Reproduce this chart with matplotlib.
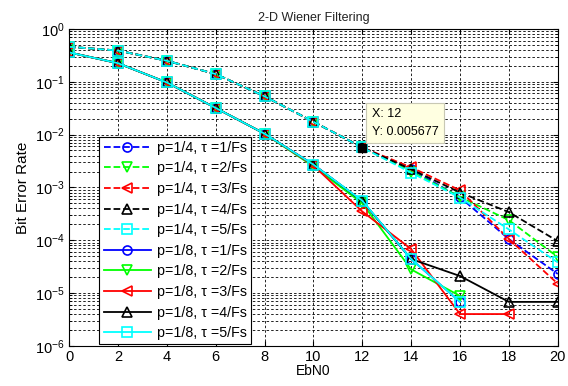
import matplotlib
matplotlib.use("Agg")
import matplotlib.pyplot as plt
import numpy as np

plt.rcParams['font.family'] = ['Liberation Sans', 'DejaVu Sans']
plt.rcParams['mathtext.default'] = 'regular'

ebn0 = [0, 2, 4, 6, 8, 10, 12, 14, 16, 18, 20]

# p = 1/4 (dashed)
p4_t1 = [0.46, 0.39, 0.25, 0.14, 0.053, 0.0175, 0.0057, 0.0022, 0.00065, 0.000105, 0.000023]
p4_t2 = [0.46, 0.39, 0.25, 0.14, 0.053, 0.0175, 0.0057, 0.0020, 0.00066, 0.00024, 0.000048]
p4_t3 = [0.46, 0.39, 0.25, 0.14, 0.053, 0.0175, 0.0057, 0.0024, 0.00088, 0.000105, 0.000015]
p4_t4 = [0.46, 0.39, 0.25, 0.14, 0.053, 0.0175, 0.0057, 0.0022, 0.00080, 0.00034, 0.000096]
p4_t5 = [0.46, 0.39, 0.25, 0.14, 0.053, 0.0175, 0.0057, 0.0019, 0.00064, 0.00016, 0.000038]

# p = 1/8 (solid), NaN where no errors were counted
p8_t1 = [0.36, 0.225, 0.097, 0.032, 0.0104, 0.0027, 0.00055, 0.000044, 0.0000068, np.nan, np.nan]
p8_t2 = [0.36, 0.225, 0.097, 0.032, 0.0104, 0.0025, 0.00050, 0.000028, 0.0000088, np.nan, np.nan]
p8_t3 = [0.36, 0.225, 0.097, 0.032, 0.0104, 0.0026, 0.00035, 0.000068, 0.0000040, 0.0000040, np.nan]
p8_t4 = [0.36, 0.225, 0.097, 0.032, 0.0104, 0.0027, 0.00055, 0.000044, 0.000021, 0.0000068, 0.0000068]
p8_t5 = [0.36, 0.225, 0.097, 0.032, 0.0104, 0.0027, 0.00056, 0.000044, 0.0000068, np.nan, np.nan]

labels_p4 = ["p=1/4, \u03c4 =%d/Fs" % k for k in range(1, 6)]
labels_p8 = ["p=1/8, \u03c4 =%d/Fs" % k for k in range(1, 6)]
yticks = [1e-6, 1e-5, 1e-4, 1e-3, 1e-2, 1e-1, 1]

colors = ['#0000ff', '#00ff00', '#ff0000', '#000000', '#00ffff']
markers = ['o', 'v', '<', '^', 's']

fig = plt.figure(figsize=(5.68, 3.86), dpi=100)
ax = fig.add_axes([0.1215, 0.104, 0.8605, 0.821])

for ys, c, m, lab in zip([p4_t1, p4_t2, p4_t3, p4_t4, p4_t5], colors, markers, labels_p4):
    ax.semilogy(ebn0, ys, linestyle='--', color=c, marker=m, markerfacecolor='none',
                markeredgecolor=c, markersize=6.5, markeredgewidth=1.2, linewidth=1.3, label=lab)
for ys, c, m, lab in zip([p8_t1, p8_t2, p8_t3, p8_t4, p8_t5], colors, markers, labels_p8):
    ax.semilogy(ebn0, ys, linestyle='-', color=c, marker=m, markerfacecolor='none',
                markeredgecolor=c, markersize=6.5, markeredgewidth=1.2, linewidth=1.3, label=lab)

ax.set_xlim(0, 20)
ax.set_ylim(1e-6, 1)
ax.set_xticks(range(0, 21, 2))
ax.set_yticks(yticks)
ax.set_yticklabels(["$10^{%d}$" % round(np.log10(v)) for v in yticks])
ax.grid(True, which='major', color='black', linestyle=(0, (3, 2.5)), linewidth=0.6)
ax.grid(True, which='minor', axis='y', color='black', linestyle=(0, (3, 2.5)), linewidth=0.6)
ax.tick_params(direction='in', which='both', labelsize=10.5, top=True, right=True, pad=3)

ax.set_title("2-D Wiener Filtering", fontsize=9, color='#222222')
ax.set_xlabel("EbN0", fontsize=10, labelpad=0)
ax.set_ylabel("Bit Error Rate", fontsize=11)

# data tip
tip_x, tip_y = 12, 0.005677
ax.plot([tip_x], [tip_y], marker='s', color='black', markersize=6, linestyle='none', zorder=5)
ax.annotate("X: 12\nY: 0.005677", xy=(tip_x, tip_y), xytext=(7, 7), textcoords='offset points',
            fontsize=9, va='bottom', ha='left', linespacing=1.6,
            bbox=dict(boxstyle='square,pad=0.45', fc='#ffffe1', ec='#c8c8b4', lw=0.8), zorder=6)

leg = ax.legend(loc='lower left', bbox_to_anchor=(0.059, 0.0), borderaxespad=0.1, fontsize=10.3,
                frameon=True, fancybox=False, edgecolor='black', framealpha=1, borderpad=0.3,
                labelspacing=0.46, handlelength=3.3, handletextpad=0.4)
leg.get_frame().set_linewidth(0.8)

fig.savefig("out.png", dpi=100)
